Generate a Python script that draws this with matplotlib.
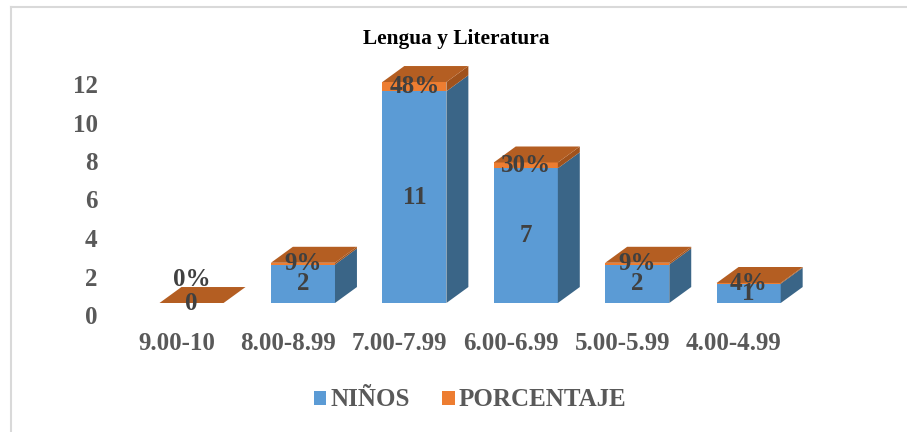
import matplotlib
matplotlib.use("Agg")
import matplotlib.pyplot as plt
from matplotlib.patches import Polygon, Patch
from matplotlib.lines import Line2D
from matplotlib.transforms import offset_copy

categories = ["9.00-10", "8.00-8.99", "7.00-7.99", "6.00-6.99", "5.00-5.99", "4.00-4.99"]
ninos = [0, 2, 11, 7, 2, 1]
porcentaje = [0, 9, 48, 30, 9, 4]   # percent
yticks = [0, 2, 4, 6, 8, 10, 12]
title = "Lengua y Literatura"
series_names = ["NIÑOS", "PORCENTAJE"]

BLUE = "#5B9BD5"
BLUE_SIDE = "#3A6587"
ORANGE = "#ED7D31"
ORANGE_SIDE = "#A0521C"
TOP = "#B45E22"
TXT = "#595959"
LBL = "#404040"
FONT = "Liberation Serif"
FS = 18

W, H = 907, 432
fig = plt.figure(figsize=(W / 100, H / 100), dpi=100)

# main plotting axes (front faces)
left_px, width_px = 80.1, 780.0
base_px, height_px = 129.0, 250.25
ax = fig.add_axes([left_px / W, base_px / H, width_px / W, height_px / H])
ax.set_xlim(-1, 6)
ax.set_ylim(0, 13)
ax.axis("off")

bw = 0.575
DX, DY = 0.197, 0.83
x = list(range(len(categories)))
pfrac = [p / 100 for p in porcentaje]

ax.bar(x, ninos, width=bw, color=BLUE, linewidth=0, zorder=2)
ax.bar(x, pfrac, width=bw, bottom=ninos, color=ORANGE, linewidth=0, zorder=2)

for i, b, p in zip(x, ninos, pfrac):
    r = i + bw / 2
    l = i - bw / 2
    t = b + p
    if b > 0:
        ax.add_patch(Polygon([(r, 0), (r + DX, DY), (r + DX, b + DY), (r, b)],
                             closed=True, facecolor=BLUE_SIDE, linewidth=0, zorder=2))
    if p > 0:
        ax.add_patch(Polygon([(r, b), (r + DX, b + DY), (r + DX, t + DY), (r, t)],
                             closed=True, facecolor=ORANGE_SIDE, linewidth=0, zorder=2))
    ax.add_patch(Polygon([(l, t), (r, t), (r + DX, t + DY), (l + DX, t + DY)],
                         closed=True, facecolor=TOP, linewidth=0, zorder=2))

# data labels
for i, b, p, pc in zip(x, ninos, pfrac, porcentaje):
    ax.text(i, b / 2, f"{b}", ha="center", va="center", fontsize=FS,
            fontweight="bold", family=FONT, color=LBL, zorder=5)
    tr = ax.transData if (b + p) > 0 else offset_copy(ax.transData, fig=fig, x=0, y=23, units="dots")
    ax.text(i, b + p / 2, f"{pc}%", ha="center", va="center", fontsize=FS,
            fontweight="bold", family=FONT, color=LBL, zorder=5, transform=tr)

# axis labels axes (shifted like Excel's 3D axis)
axl = fig.add_axes([(left_px - 15) / W, (base_px - 12) / H, width_px / W, height_px / H])
axl.set_xlim(-1, 6)
axl.set_ylim(0, 13)
axl.patch.set_alpha(0)
for s in axl.spines.values():
    s.set_visible(False)
axl.set_xticks(x)
axl.set_xticklabels(categories)
axl.set_yticks(yticks)
axl.set_yticklabels([str(v) for v in yticks])
axl.tick_params(axis="x", length=0, pad=12, labelsize=FS, labelcolor=TXT)
axl.tick_params(axis="y", length=0, pad=-23.5, labelsize=FS, labelcolor=TXT)
for lab in axl.get_xticklabels() + axl.get_yticklabels():
    lab.set_fontfamily(FONT)
    lab.set_fontweight("bold")

# title
fig.text(456 / W, 1 - 44 / H, title, ha="center", va="baseline", fontsize=15.4,
         fontweight="bold", family=FONT, color="black")

# legend
handles = [Patch(facecolor=BLUE), Patch(facecolor=ORANGE)]
leg = fig.legend(handles, series_names, loc="center", bbox_to_anchor=(470 / W, 1 - 400 / H),
                 ncol=2, frameon=False, handlelength=0.5, handleheight=0.5,
                 handletextpad=0.15, columnspacing=1.3,
                 prop={"family": FONT, "weight": "bold", "size": FS})
for t in leg.get_texts():
    t.set_color(TXT)

# chart border (left and top visible)
fig.add_artist(Line2D([11 / W, 11 / W], [0, 1 - 7 / H], transform=fig.transFigure,
                      color="#D9D9D9", linewidth=1.5))
fig.add_artist(Line2D([11 / W, 1], [1 - 7 / H, 1 - 7 / H], transform=fig.transFigure,
                      color="#D9D9D9", linewidth=1.5))

fig.savefig("out.png", dpi=100, facecolor="white")
